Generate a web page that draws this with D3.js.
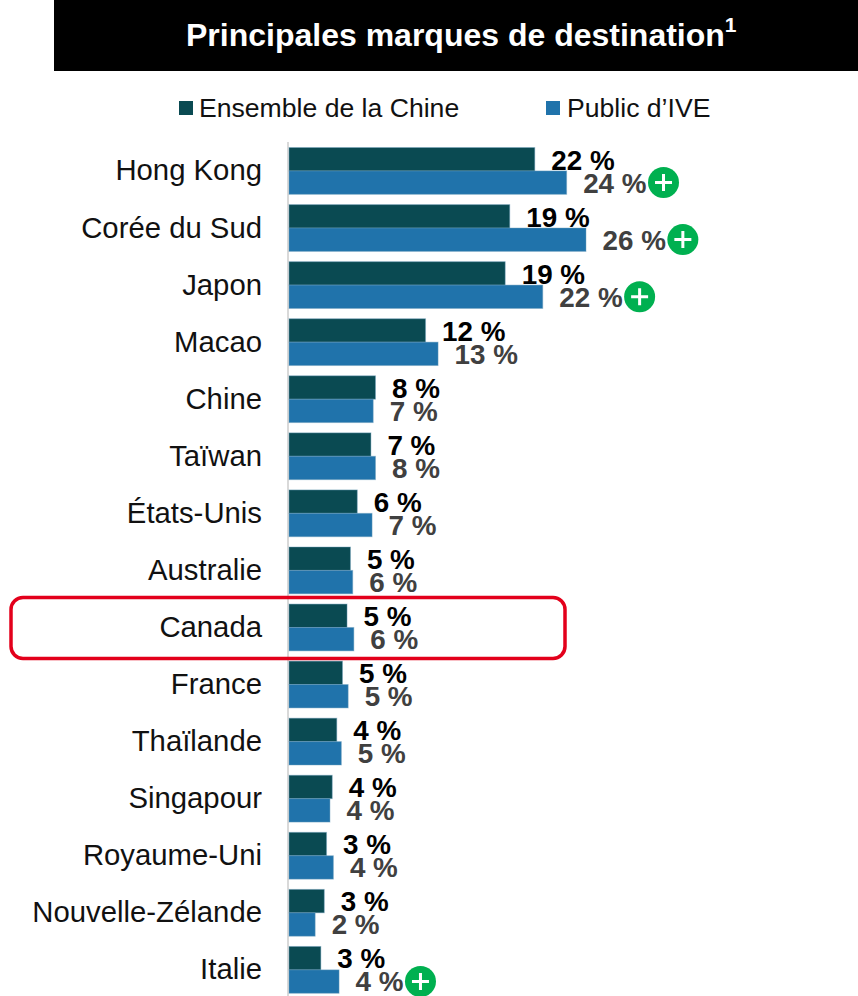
<!DOCTYPE html>
<html><head><meta charset="utf-8">
<script src="https://cdn.jsdelivr.net/npm/d3@7"></script>
<style>html,body{margin:0;padding:0;background:#fff;overflow:hidden}svg{display:block}text{font-family:"Liberation Sans",Arial,sans-serif}</style>
</head><body><script>
const categories=["Hong Kong","Corée du Sud","Japon","Macao","Chine","Taïwan","États-Unis","Australie","Canada","France","Thaïlande","Singapour","Royaume-Uni","Nouvelle-Zélande","Italie"];
const chinaValues=[21.6,19.4,19.0,12.0,7.6,7.2,6.0,5.4,5.1,4.7,4.2,3.8,3.3,3.1,2.8];
const iveValues=[24.4,26.1,22.3,13.1,7.4,7.6,7.3,5.6,5.7,5.2,4.6,3.6,3.9,2.3,4.4];
const chinaLabels=["22 %","19 %","19 %","12 %","8 %","7 %","6 %","5 %","5 %","5 %","4 %","4 %","3 %","3 %","3 %"];
const iveLabels=["24 %","26 %","22 %","13 %","7 %","8 %","7 %","6 %","6 %","5 %","5 %","4 %","4 %","2 %","4 %"];
const plusCategories=["Hong Kong","Corée du Sud","Japon","Italie"];
const highlighted="Canada";
const seriesNames=["Ensemble de la Chine","Public d’IVE"];
const colors=["#0a4a52","#2073ab"];
const W=858,H=996;
const svg=d3.select("body").append("svg").attr("width",W).attr("height",H);
const x=d3.scaleLinear().domain([0,26.1]).range([289,586]);
const y=d3.scaleBand().domain(categories).range([142.4,998.4]);
const barH=23.4;
// title
svg.append("rect").attr("x",54).attr("y",0).attr("width",804).attr("height",71).attr("fill","#000");
const t=svg.append("text").attr("x",186).attr("y",46).attr("fill","#fff").attr("font-size",32).attr("font-weight","bold");
t.append("tspan").text("Principales marques de destination");
t.append("tspan").text("1").attr("font-size",21).attr("dy",-14);
// legend
[[179,199],[546,567]].forEach((p,i)=>{
  svg.append("rect").attr("x",p[0]).attr("y",101).attr("width",14).attr("height",14).attr("fill",colors[i]);
  svg.append("text").attr("x",p[1]).attr("y",117).attr("font-size",26.6).attr("fill","#111").text(seriesNames[i]);
});
// axis
svg.append("line").attr("x1",288).attr("x2",288).attr("y1",142).attr("y2",996).attr("stroke","#d9d9d9").attr("stroke-width",2);
// category labels
svg.append("g").selectAll("text").data(categories).join("text")
  .attr("x",262).attr("y",d=>y(d)+y.bandwidth()/2+9.5).attr("text-anchor","end")
  .attr("font-size",29.3).attr("fill","#111").text(d=>d);
// bars
const barTop=d=>y(d)+y.bandwidth()/2-barH;
[[chinaValues,0],[iveValues,1]].forEach(([vals,i])=>{
  svg.append("g").selectAll("rect").data(categories).join("rect")
    .attr("x",x(0)).attr("y",d=>barTop(d)+i*barH)
    .attr("width",(d,k)=>x(vals[k])-x(0)).attr("height",barH)
    .attr("fill",colors[i]).attr("stroke","#6f9fbc").attr("stroke-opacity",.45).attr("stroke-width",1);
});
// labels
svg.append("g").selectAll("text").data(categories).join("text")
  .attr("x",(d,k)=>x(chinaValues[k])+16.5).attr("y",d=>barTop(d)+22)
  .attr("font-size",27.8).attr("font-weight","bold").attr("fill","#000").text((d,k)=>chinaLabels[k]);
const iveText=svg.append("g").selectAll("text").data(categories).join("text")
  .attr("x",(d,k)=>x(iveValues[k])+16.5).attr("y",d=>barTop(d)+45)
  .attr("font-size",27.8).attr("font-weight","bold").attr("fill","#404040").text((d,k)=>iveLabels[k]);
// plus badges, placed after the blue label they follow
const labelEnd={};
iveText.each(function(d,k){labelEnd[d]=x(iveValues[k])+16.5+this.getComputedTextLength();});
const badge=svg.append("g").selectAll("g").data(plusCategories).join("g")
  .attr("transform",d=>`translate(${labelEnd[d]+17},${barTop(d)+35})`);
badge.append("circle").attr("r",15.5).attr("fill","#00b050");
badge.append("path").attr("d","M-8.5,0H8.5M0,-8.5V8.5").attr("stroke","#fff").attr("stroke-width",3).attr("fill","none");
// highlight
const hy=y(highlighted);
svg.append("rect").attr("x",11).attr("y",hy-1.5).attr("width",554).attr("height",y.bandwidth()+4).attr("rx",12)
  .attr("fill","none").attr("stroke","#e3001b").attr("stroke-width",3.5);
</script></body></html>
